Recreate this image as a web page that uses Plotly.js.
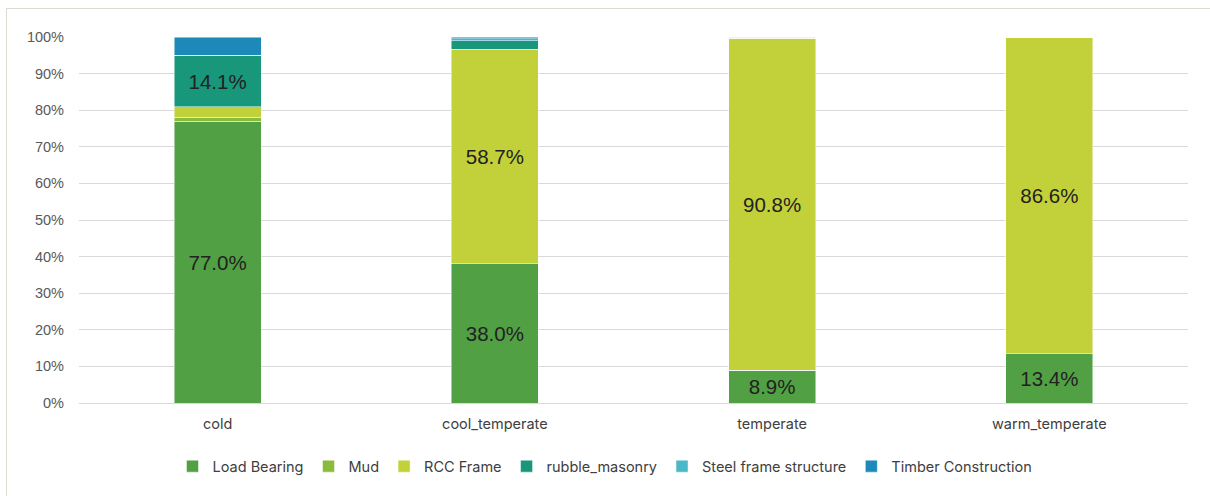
<!DOCTYPE html>
<html><head><meta charset="utf-8">
<script src="https://cdn.plot.ly/plotly-3.0.1.min.js"></script>
<style>
html,body{margin:0;padding:0;background:#fff;}
#frame{position:absolute;left:6px;top:8px;width:1220px;height:500px;border-left:1.5px solid #dedbd0;border-top:1.5px solid #dedbd0;pointer-events:none;z-index:5;}
#chart{position:absolute;left:0;top:0;width:1210px;height:496px;}
</style></head>
<body>
<div id="chart"></div>
<div id="frame"></div>
<script>
const categories = ["cold", "cool_temperate", "temperate", "warm_temperate"];
const seriesNames = ["Load Bearing", "Mud", "RCC Frame", "rubble_masonry", "Steel frame structure", "Timber Construction"];
const loadBearing = [77.0, 38.0, 8.9, 13.4];
const mud = [1.1, 0.0, 0.0, 0.0];
const rccFrame = [2.8, 58.7, 90.8, 86.6];
const rubbleMasonry = [14.1, 2.3, 0.0, 0.0];
const steelFrame = [0.0, 0.5, 0.3, 0.0];
const timberConstruction = [5.0, 0.5, 0.0, 0.0];
const colors = ["#52a044", "#8bbb3c", "#c2d03a", "#18977a", "#4cb7c7", "#1c89b8"];

const allValues = [loadBearing, mud, rccFrame, rubbleMasonry, steelFrame, timberConstruction];
const traces = allValues.map((vals, i) => ({
  type: "bar",
  name: seriesNames[i],
  x: categories,
  y: vals,
  text: vals.map(v => v >= 8 ? v.toFixed(1) + "%" : ""),
  textposition: "inside",
  insidetextanchor: "middle",
  textangle: 0,
  insidetextfont: {family: "Liberation Sans, Arial, sans-serif", size: 20.5, color: "#222222"},
  marker: {color: colors[i], line: {color: "rgba(255,255,255,0.6)", width: 0.8}},
  hoverinfo: "name+y"
}));

const layout = {
  width: 1210, height: 496,
  barmode: "stack",
  bargap: 0.686,
  paper_bgcolor: "#ffffff",
  plot_bgcolor: "#ffffff",
  margin: {l: 78.5, r: 21.5, t: 37, b: 93, autoexpand: false},
  showlegend: true,
  legend: {
    orientation: "h", x: 0.5, xanchor: "center", xref: "container",
    y: 0.06, yanchor: "middle", yref: "container",
    font: {family: "Inter, Roboto, sans-serif", size: 14.5, color: "#404040"},
    itemwidth: 30, tracegroupgap: 0, traceorder: "normal"
  },
  xaxis: {
    type: "category",
    tickfont: {family: "Inter, Roboto, sans-serif", size: 14.5, color: "#404040"},
    showline: true, linecolor: "#d9d9d9", linewidth: 1,
    ticks: "", ticklabelstandoff: 8,
    showgrid: false, automargin: false
  },
  yaxis: {
    range: [0, 100],
    dtick: 10,
    ticksuffix: "%",
    tickfont: {family: "Liberation Sans, Arial, sans-serif", size: 14.5, color: "#595959"},
    showgrid: true, gridcolor: "#d9d9d9", gridwidth: 1,
    zeroline: false, ticks: "", ticklabelstandoff: 14, automargin: false
  }
};
Plotly.newPlot("chart", traces, layout, {displayModeBar: false, staticPlot: true});
</script>
</body></html>
